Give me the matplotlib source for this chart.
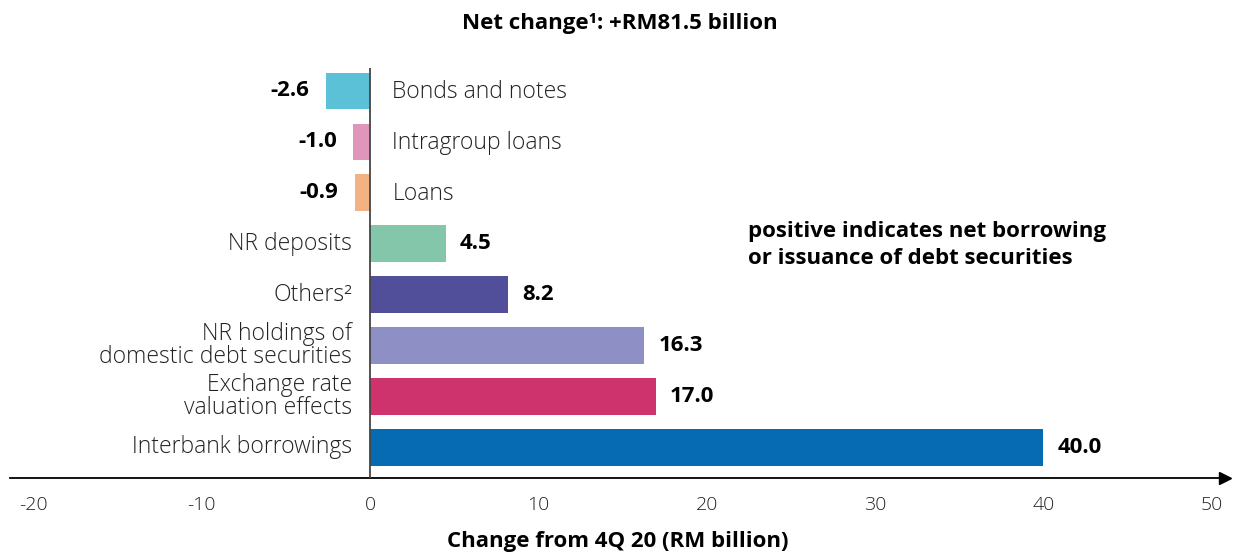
import matplotlib
matplotlib.use("Agg")
import matplotlib.pyplot as plt
import numpy as np

categories = [
    "Bonds and notes",
    "Intragroup loans",
    "Loans",
    "NR deposits",
    "Others²",
    "NR holdings of\ndomestic debt securities",
    "Exchange rate\nvaluation effects",
    "Interbank borrowings",
]
values = [-2.6, -1.0, -0.9, 4.5, 8.2, 16.3, 17.0, 40.0]
colors = ["#5BC1D7", "#E096BA", "#F2B283", "#83C6A9",
          "#524F9A", "#8E8FC4", "#CF336E", "#066BB3"]
xticks = [-20, -10, 0, 10, 20, 30, 40, 50]

title = "Net change¹: +RM81.5 billion"
xlabel = "Change from 4Q 20 (RM billion)"
note = "positive indicates net borrowing\nor issuance of debt securities"

plt.rcParams["font.family"] = ["Open Sans", "DejaVu Sans"]

fig = plt.figure(figsize=(12.35, 5.57), dpi=100)
W, H = 1235, 557
# axes box in pixels: left 10, right 1225, top 68, bottom 478
ax = fig.add_axes([10 / W, (H - 478) / H, 1215 / W, 410 / H])

y = np.arange(len(categories))
ax.barh(y, values, height=0.72, color=colors, zorder=2)

ax.set_xlim(-21.4, 50.8)
ax.set_ylim(7.6, -0.45)

ax.axvline(0, color="#444444", lw=1.3, zorder=3)

for yi, (cat, val) in enumerate(zip(categories, values)):
    if val < 0:
        ax.annotate(cat, (0, yi + 0.02), xytext=(16, 0), textcoords="offset points",
                    ha="left", va="center", fontsize=16.5, fontweight="light",
                    color="#222222")
        ax.annotate(f"{val:.1f}", (val, yi), xytext=(-12, 0), textcoords="offset points",
                    ha="right", va="center", fontsize=16, fontweight="bold",
                    color="black")
    else:
        ax.annotate(cat, (0, yi), xytext=(-13, 0), textcoords="offset points",
                    ha="right", va="center", fontsize=16.5, fontweight="light",
                    color="#222222", linespacing=0.9)
        ax.annotate(f"{val:.1f}", (val, yi), xytext=(10, 0), textcoords="offset points",
                    ha="left", va="center", fontsize=16, fontweight="bold",
                    color="black")

for side in ["top", "right", "left"]:
    ax.spines[side].set_visible(False)
ax.spines["bottom"].set_linewidth(1.3)
ax.plot(1, 0, marker=">", color="black", markersize=9, transform=ax.transAxes,
        clip_on=False)

ax.set_yticks([])
ax.set_xticks(xticks)
ax.set_xticklabels([str(t) for t in xticks], fontsize=14, fontweight="light",
                   color="#222222")
ax.tick_params(axis="x", length=0, pad=13)
ax.set_xlabel(xlabel, fontsize=16, fontweight="bold", labelpad=12)

fig.text(620 / W, 1 - 23 / H, title, ha="center", va="center",
         fontsize=16, fontweight="bold")
ax.text(22.45, 3.03, note, ha="left", va="center", fontsize=16,
        fontweight="bold", linespacing=1.35)

fig.savefig("out.png", dpi=100)
